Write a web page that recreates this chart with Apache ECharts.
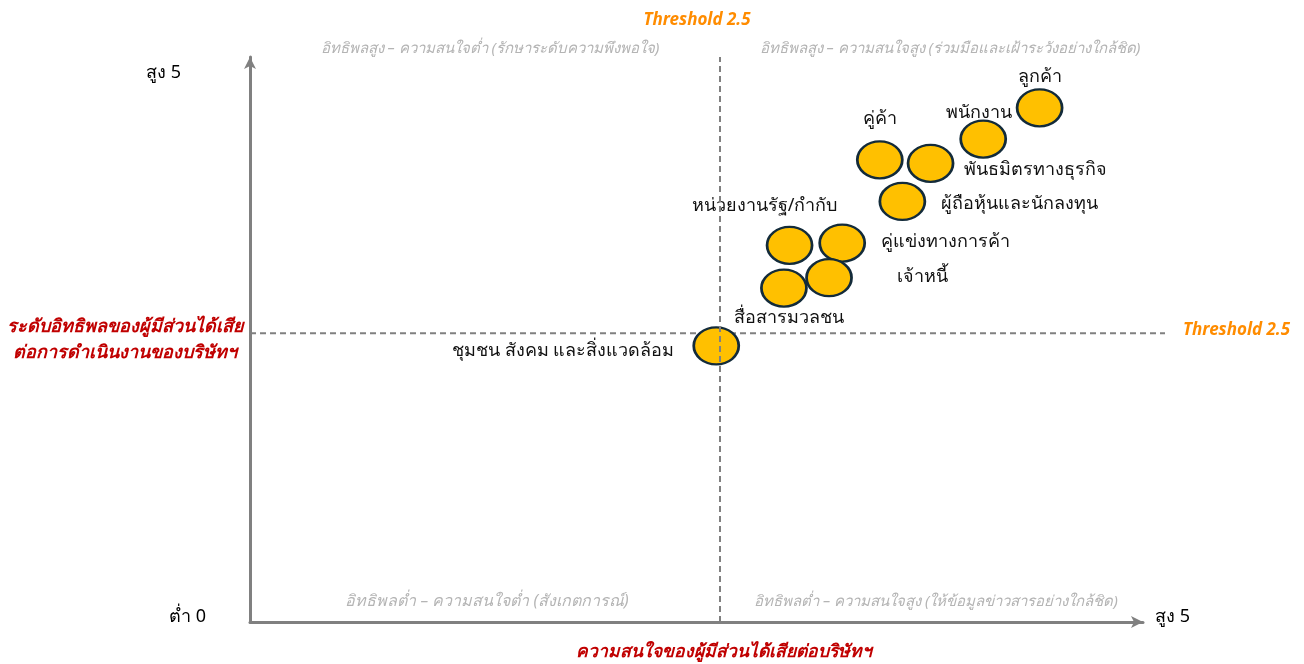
<!DOCTYPE html>
<html>
<head>
<meta charset="utf-8">
<script src="https://cdn.jsdelivr.net/npm/echarts@6/dist/echarts.min.js"></script>
<style>
html,body{margin:0;padding:0;background:#fff;}
#chart{width:1304px;height:664px;}
</style>
</head>
<body>
<div id="chart"></div>
<script>
// ---- data ----
const stakeholders = ['ลูกค้า','พนักงาน','คู่ค้า','พันธมิตรทางธุรกิจ','ผู้ถือหุ้นและนักลงทุน','หน่วยงานรัฐ/กำกับ','คู่แข่งทางการค้า','เจ้าหนี้','สื่อสารมวลชน','ชุมชน สังคม และสิ่งแวดล้อม'];
const interest  = [4.20, 3.90, 3.35, 3.62, 3.47, 2.87, 3.15, 3.08, 2.84, 2.48];
const influence = [4.45, 4.18, 4.00, 3.97, 3.64, 3.26, 3.28, 2.98, 2.89, 2.39];
const threshold = 2.5;
const thresholdLineEnd = 4.87;
const thresholdLabel = 'Threshold 2.5';
const xTitle = 'ความสนใจของผู้มีส่วนได้เสียต่อบริษัทฯ';
const yTitle = 'ระดับอิทธิพลของผู้มีส่วนได้เสีย\nต่อการดำเนินงานของบริษัทฯ';
const axisEndLabels = { yHigh: 'สูง 5', low: 'ต่ำ 0', xHigh: 'สูง 5' };
const quadrantLabels = [
  'อิทธิพลสูง – ความสนใจต่ำ (รักษาระดับความพึงพอใจ)',
  'อิทธิพลสูง – ความสนใจสูง (ร่วมมือและเฝ้าระวังอย่างใกล้ชิด)',
  'อิทธิพลต่ำ – ความสนใจต่ำ (สังเกตการณ์)',
  'อิทธิพลต่ำ – ความสนใจสูง (ให้ข้อมูลข่าวสารอย่างใกล้ชิด)'
];

// ---- layout for point labels ----
const labelLayout = {
  'ลูกค้า': {position:'top', distance:2},
  'พนักงาน': {position:'top', distance:-2, offset:[-4,0]},
  'คู่ค้า': {position:'top', distance:12},
  'พันธมิตรทางธุรกิจ': {position:'right', distance:10, offset:[0,7]},
  'ผู้ถือหุ้นและนักลงทุน': {position:'right', distance:15, offset:[0,2]},
  'หน่วยงานรัฐ/กำกับ': {position:'top', distance:11, offset:[-25,0]},
  'คู่แข่งทางการค้า': {position:'right', distance:15, offset:[0,-1]},
  'เจ้าหนี้': {position:'right', distance:44, offset:[0,-1]},
  'สื่อสารมวลชน': {position:'bottom', distance:1, offset:[5,0]},
  'ชุมชน สังคม และสิ่งแวดล้อม': {position:'left', distance:18, offset:[0,5]}
};

const FONT = '"Noto Sans", "DejaVu Sans", sans-serif';
const points = stakeholders.map((n,i)=>({
  name: n,
  value: [interest[i], influence[i]],
  label: Object.assign({show:true, formatter:'{b}'}, labelLayout[n])
}));

const chart = echarts.init(document.getElementById('chart'));
const thresholdText = {color:'#ff8c00', fontSize:17, fontWeight:'bold', fontStyle:'italic', fontFamily:FONT};
const hiddenAxis = {show:false, axisLine:{show:false}, axisTick:{show:false}, axisLabel:{show:false}, splitLine:{show:false}};

chart.setOption({
  animation:false,
  backgroundColor:'#fff',
  grid:[
    {left:250, top:57, right:161, bottom:42, outerBoundsMode:'none', containLabel:false},
    {left:250, top:57, right:139, bottom:42, outerBoundsMode:'none', containLabel:false}
  ],
  xAxis:[{
    type:'value', min:0, max:4.75, gridIndex:0,
    name:xTitle, nameLocation:'middle', nameGap:21,
    nameTextStyle:{color:'#c00000', fontSize:17.5, fontWeight:'bold', fontStyle:'italic', fontFamily:FONT, padding:[0,0,0,54]},
    axisLine:{show:true, symbol:['none','arrow'], symbolSize:[9,12], lineStyle:{color:'#808080', width:3}},
    axisTick:{show:false}, axisLabel:{show:false}, splitLine:{show:false}
  }, Object.assign({type:'value', min:0, max:thresholdLineEnd, gridIndex:1}, hiddenAxis)],
  yAxis:[{
    type:'value', min:0, max:4.89, gridIndex:0,
    name:yTitle, nameLocation:'middle', nameGap:125, nameRotate:0,
    nameTextStyle:{color:'#c00000', fontSize:18, fontWeight:'bold', fontStyle:'italic', fontFamily:FONT, align:'center', lineHeight:26},
    axisLine:{show:true, symbol:['none','arrow'], symbolSize:[9,12], lineStyle:{color:'#808080', width:3}},
    axisTick:{show:false}, axisLabel:{show:false}, splitLine:{show:false}
  }, Object.assign({type:'value', min:0, max:4.89, gridIndex:1}, hiddenAxis)],
  graphic:[
    {type:'text', left:146, top:64, style:{text:axisEndLabels.yHigh, fill:'#000', font:'18px '+FONT}},
    {type:'text', left:169, top:608, style:{text:axisEndLabels.low, fill:'#000', font:'18px '+FONT}},
    {type:'text', left:1155, top:608, style:{text:axisEndLabels.xHigh, fill:'#000', font:'18px '+FONT}},
    {type:'text', x:490, y:49, style:{text:quadrantLabels[0], fill:'#b4b4b4', font:'italic 15px '+FONT, align:'center', verticalAlign:'middle'}},
    {type:'text', x:950, y:49, style:{text:quadrantLabels[1], fill:'#b4b4b4', font:'italic 15px '+FONT, align:'center', verticalAlign:'middle'}},
    {type:'text', x:487, y:601, style:{text:quadrantLabels[2], fill:'#b4b4b4', font:'italic 16px '+FONT, align:'center', verticalAlign:'middle'}},
    {type:'text', x:936, y:602, style:{text:quadrantLabels[3], fill:'#b4b4b4', font:'italic 15px '+FONT, align:'center', verticalAlign:'middle'}}
  ],
  series:[{
    type:'line',
    xAxisIndex:1, yAxisIndex:1,
    silent:true,
    symbol:'none',
    data:[[0,threshold],[thresholdLineEnd,threshold]],
    lineStyle:{color:'#808080', type:[6,4], width:2},
    endLabel:Object.assign({show:true, formatter:thresholdLabel, distance:18, offset:[0,-3]}, thresholdText),
    z:1
  },{
    type:'scatter',
    xAxisIndex:0, yAxisIndex:0,
    clip:false,
    symbol:'circle',
    symbolSize:[45,37],
    itemStyle:{color:'#FFC000', borderColor:'#132b3a', borderWidth:2.5, opacity:1},
    label:{color:'#111', fontSize:18, fontFamily:FONT},
    data:points,
    z:3,
    markLine:{
      silent:true, symbol:['none','none'],
      lineStyle:{color:'#808080', type:[6,4], width:2},
      label:Object.assign({formatter:thresholdLabel}, thresholdText),
      data:[
        {xAxis:threshold, label:{position:'end', distance:28, offset:[-23,0]}}
      ]
    }
  }]
});
</script>
</body>
</html>
